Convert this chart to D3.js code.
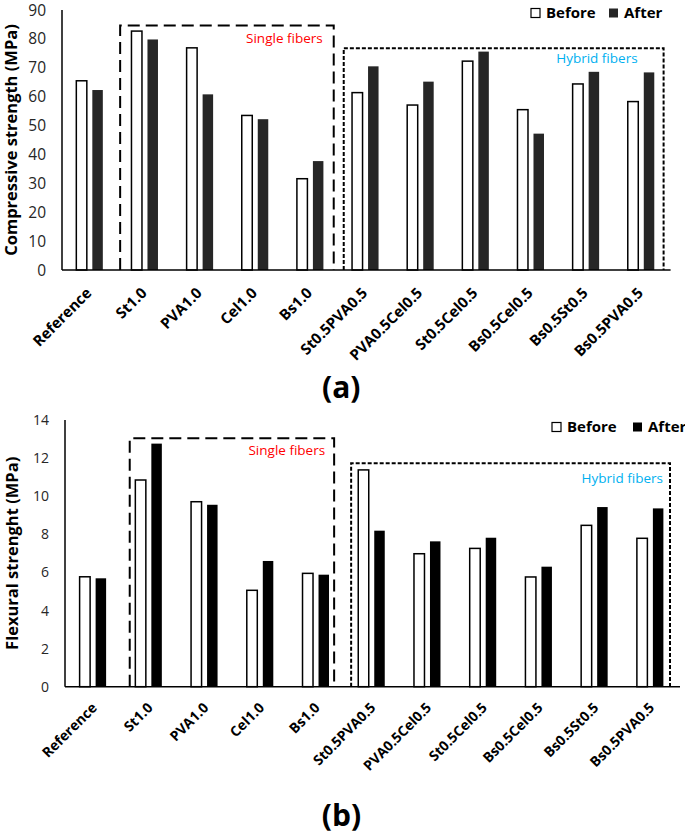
<!DOCTYPE html>
<html>
<head>
<meta charset="utf-8">
<script src="https://cdn.jsdelivr.net/npm/d3@7"></script>
<style>
  body { margin: 0; background: #fff; }
  svg { display: block; font-family: "Open Sans", sans-serif; }
</style>
</head>
<body>
<div id="chart"></div>
<script>
const categories = ["Reference", "St1.0", "PVA1.0", "Cel1.0", "Bs1.0", "St0.5PVA0.5",
  "PVA0.5Cel0.5", "St0.5Cel0.5", "Bs0.5Cel0.5", "Bs0.5St0.5", "Bs0.5PVA0.5"];
const seriesNames = ["Before", "After"];

const compBefore = [65.5, 82.7, 76.9, 53.5, 31.6, 61.4, 57.1, 72.3, 55.5, 64.4, 58.3];
const compAfter = [62.3, 79.8, 60.8, 52.2, 37.7, 70.5, 65.2, 75.6, 47.2, 68.6, 68.4];
const compTicks = [0, 10, 20, 30, 40, 50, 60, 70, 80, 90];

const flexBefore = [5.77, 10.85, 9.71, 5.06, 5.95, 11.38, 6.98, 7.26, 5.76, 8.47, 7.79];
const flexAfter = [5.69, 12.76, 9.55, 6.60, 5.88, 8.19, 7.63, 7.82, 6.30, 9.43, 9.36];
const flexTicks = [0, 2, 4, 6, 8, 10, 12, 14];

const svg = d3.select("#chart").append("svg")
  .attr("width", 685)
  .attr("height", 835);

svg.append("rect").attr("width", 685).attr("height", 835).attr("fill", "#fff");

function drawPanel(opt) {
  const g = svg.append("g");
  const x = d3.scaleBand().domain(categories).range([opt.left, opt.right]);
  const y = d3.scaleLinear().domain([0, d3.max(opt.ticks)]).range([opt.bottom, opt.top]);
  const sub = d3.scaleBand().domain(seriesNames).range([-14, 14]).paddingInner(0.25);

  const rows = categories.map((c, i) => ({ cat: c, Before: opt.before[i], After: opt.after[i] }));

  // tick labels
  g.selectAll(".tick")
    .data(opt.ticks)
    .enter().append("text")
    .attr("x", opt.left - 16)
    .attr("y", d => y(d))
    .attr("dy", "0.36em")
    .attr("text-anchor", "end")
    .style("font-size", opt.tickSize + "px")
    .style("fill", "#262626")
    .text(d => d);

  // bars
  rows.forEach(r => {
    const cx = x(r.cat) + x.bandwidth() / 2;
    seriesNames.forEach(s => {
      g.append("rect")
        .attr("x", cx + sub(s) + 0.75)
        .attr("y", y(r[s]))
        .attr("width", sub.bandwidth() - 1.5)
        .attr("height", y(0) - y(r[s]))
        .attr("fill", s === "Before" ? "#fff" : opt.afterColor)
        .attr("stroke", s === "Before" ? "#000" : "none")
        .attr("stroke-width", 1.5);
    });
  });

  // dashed group boxes
  opt.boxes.forEach(b => {
    const x0 = x(b.from) + b.padL;
    const x1 = x(b.to) + x.bandwidth() - b.padR;
    const yt = y(b.top);
    g.append("path")
      .attr("d", `M${x0},${y(0)}V${yt}H${x1}V${y(0)}`)
      .attr("fill", "none")
      .attr("stroke", "#000")
      .attr("stroke-width", 2)
      .attr("stroke-dasharray", b.dash);
    g.append("text")
      .attr("x", x1 - b.textR)
      .attr("y", yt + b.textDy)
      .attr("text-anchor", "end")
      .style("font-size", "13.5px")
      .style("fill", b.color)
      .text(b.label);
  });

  // axes lines
  g.append("line")
    .attr("x1", opt.left).attr("x2", opt.left)
    .attr("y1", opt.top).attr("y2", opt.bottom)
    .attr("stroke", "#000").attr("stroke-width", 1.5);
  g.append("line")
    .attr("x1", opt.left).attr("x2", opt.right + 2)
    .attr("y1", y(0)).attr("y2", y(0))
    .attr("stroke", "#000").attr("stroke-width", 1.5);

  // category labels
  g.selectAll(".xlab")
    .data(categories)
    .enter().append("text")
    .attr("transform", d => `translate(${x(d) + x.bandwidth() / 2 + opt.labDx},${y(0) + opt.labDy}) rotate(-45)`)
    .attr("text-anchor", "end")
    .style("font-size", opt.labSize + "px")
    .style("font-weight", "bold")
    .style("fill", "#000")
    .text(d => d);

  // y title
  g.append("text")
    .attr("transform", `translate(${opt.titleX},${(opt.top + opt.bottom) / 2}) rotate(-90)`)
    .attr("text-anchor", "middle")
    .style("font-size", opt.titleSize + "px")
    .style("font-weight", "bold")
    .text(opt.title);

  // legend
  const lg = g.append("g").attr("transform", `translate(${opt.legendX},${opt.legendY})`);
  lg.append("rect").attr("x", 0).attr("y", -4.5).attr("width", 9).attr("height", 9)
    .attr("fill", "#fff").attr("stroke", "#000").attr("stroke-width", 1.2);
  lg.append("text").attr("x", 15).attr("dy", "0.36em")
    .style("font-size", "15px").style("font-weight", "bold").text(seriesNames[0]);
  lg.append("rect").attr("x", opt.legendGap).attr("y", -4.5).attr("width", 9).attr("height", 9)
    .attr("fill", opt.afterColor);
  lg.append("text").attr("x", opt.legendGap + 15).attr("dy", "0.36em")
    .style("font-size", "15px").style("font-weight", "bold").text(seriesNames[1]);

  // caption
  g.append("text")
    .attr("x", (opt.left + opt.right) / 2 + opt.capDx)
    .attr("y", opt.capY)
    .attr("text-anchor", "middle")
    .style("font-size", "30px")
    .style("font-weight", "bold")
    .text(opt.caption);
}

drawPanel({
  left: 62, right: 668.6, top: 10, bottom: 270,
  before: compBefore, after: compAfter, ticks: compTicks,
  afterColor: "#262626", tickSize: 15.5, labSize: 15, labDx: 3, labDy: 24,
  title: "Compressive strength (MPa)", titleX: 17, titleSize: 16.5,
  legendX: 531, legendY: 13, legendGap: 78,
  caption: "(a)", capY: 398, capDx: -24,
  boxes: [
    { from: "St1.0", to: "Bs1.0", padL: 3, padR: 4, top: 84.6, dash: "12,6",
      label: "Single fibers", color: "#FF0000", textR: 11, textDy: 17 },
    { from: "St0.5PVA0.5", to: "Bs0.5PVA0.5", padL: 6, padR: 5, top: 76.8, dash: "4,2",
      label: "Hybrid fibers", color: "#00B0F0", textR: 26, textDy: 15 }
  ]
});

drawPanel({
  left: 65, right: 678, top: 420, bottom: 686.7,
  before: flexBefore, after: flexAfter, ticks: flexTicks,
  afterColor: "#000", tickSize: 14, labSize: 14, labDx: 5, labDy: 22,
  title: "Flexural strenght (MPa)", titleX: 18, titleSize: 16.5,
  legendX: 552, legendY: 427, legendGap: 81,
  caption: "(b)", capY: 826, capDx: -30,
  boxes: [
    { from: "St1.0", to: "Bs1.0", padL: 9, padR: 9.5, top: 13.04, dash: "12,6",
      label: "Single fibers", color: "#FF0000", textR: 9, textDy: 17 },
    { from: "St0.5PVA0.5", to: "Bs0.5PVA0.5", padL: 7.5, padR: 8, top: 11.73, dash: "4,2",
      label: "Hybrid fibers", color: "#00B0F0", textR: 7, textDy: 20 }
  ]
});
</script>
</body>
</html>
